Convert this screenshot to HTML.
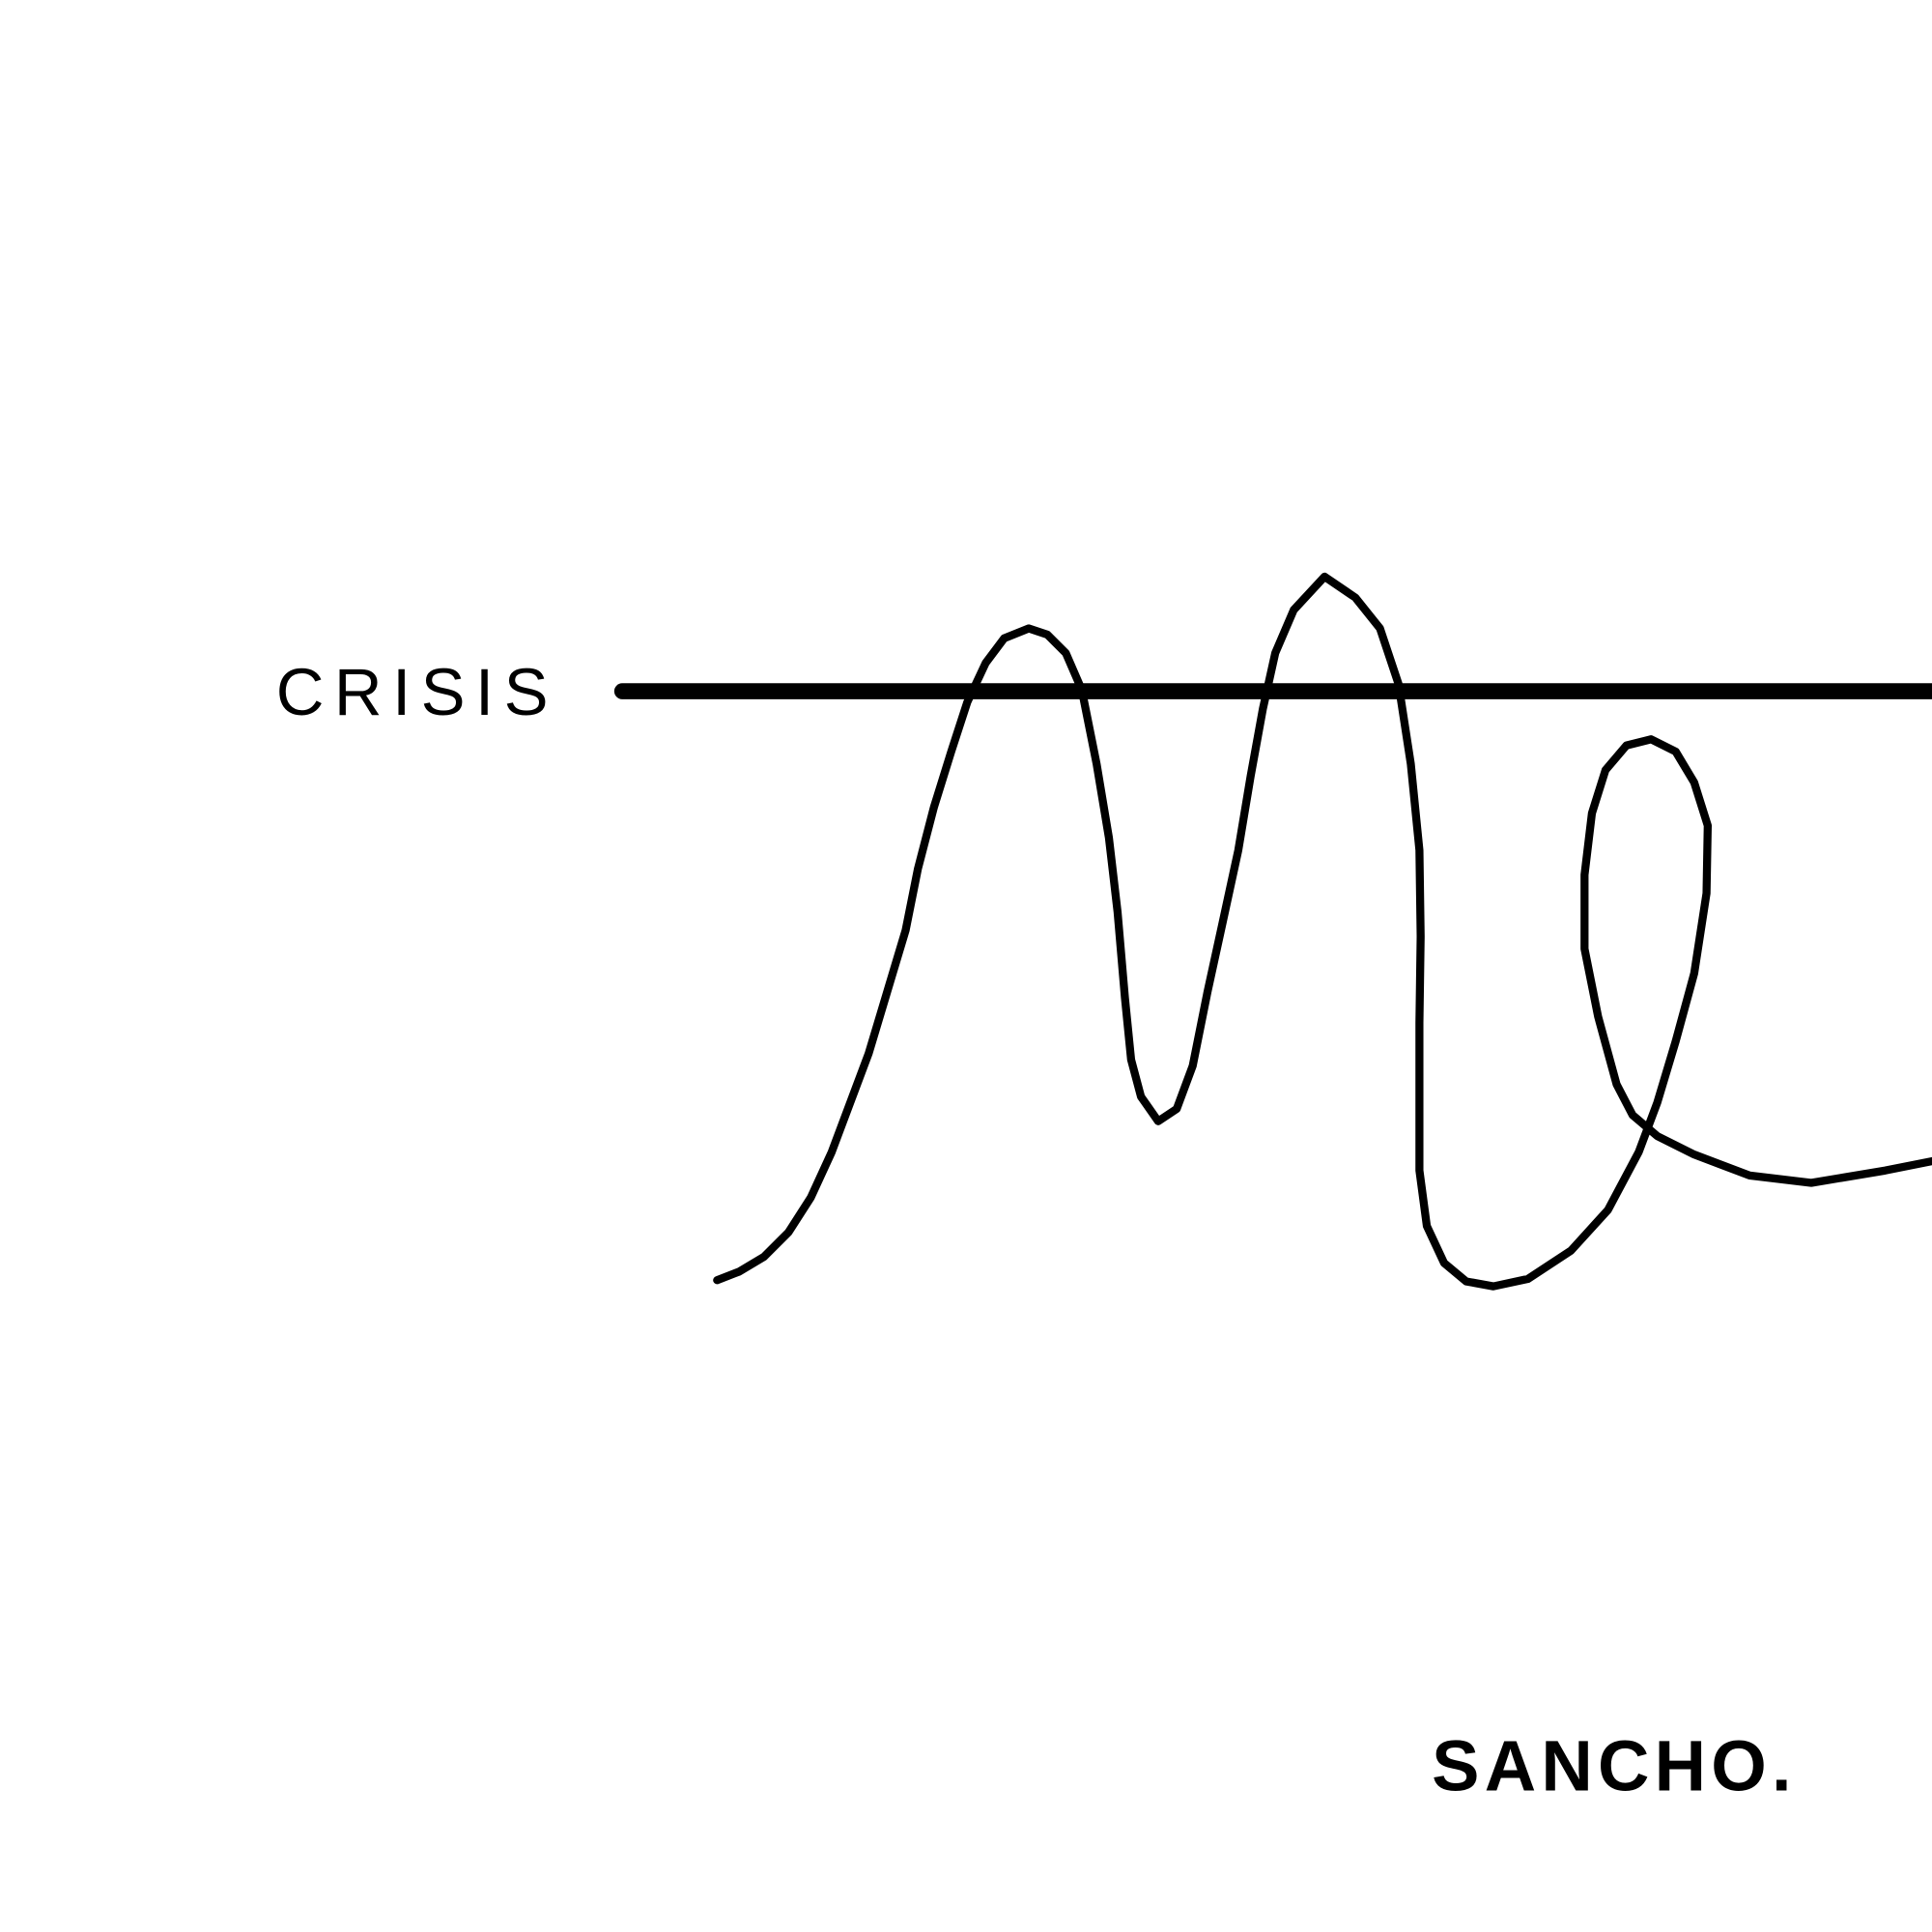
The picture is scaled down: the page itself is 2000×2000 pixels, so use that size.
<!DOCTYPE html>
<html><head><style>html,body{margin:0;padding:0;background:#fff}svg{display:block}</style></head>
<body>
<svg width="2000" height="2000" viewBox="0 0 1568 1568" xmlns="http://www.w3.org/2000/svg">
<rect width="1568" height="1568" fill="#fff"/>
<line x1="505" y1="561" x2="1575" y2="561" stroke="#000" stroke-width="13" stroke-linecap="round"/>
<polyline fill="none" stroke="#000" stroke-width="6.5" stroke-linejoin="round" stroke-linecap="round" points="
582,1039 600,1032 620,1020 640,1000 658,972 675,935 690,895 705,855 720,805 735,755 745,705 758,655 772,610 785,570 800,538 815,518 835,510 850,515 865,530 878,560 890,620 900,680 907,740 913,810 918,860 926,890 940,910 955,900 968,865 980,805 992,750 1005,690 1015,630 1025,575 1035,530 1050,495 1075,468 1100,485 1120,510 1135,555 1145,620 1152,690 1153,760 1152,830 1152,950 1158,995 1172,1025 1190,1040 1212,1044 1240,1038 1275,1015 1305,982 1330,935 1345,895 1360,845 1375,790 1385,725 1386,670 1375,635 1360,610 1340,600 1320,605 1303,625 1292,660 1286,710 1286,770 1297,825 1312,880 1325,905 1345,922 1375,937 1420,954 1470,960 1530,950 1570,942"/>
<text x="224" y="580" font-family="Liberation Sans, sans-serif" font-size="54" letter-spacing="9" textLength="230" fill="#000">CRISIS</text>
<text x="1162" y="1453" font-family="Liberation Sans, sans-serif" font-size="58" font-weight="bold" textLength="292" fill="#000">SANCHO.</text>
</svg>
</body></html>
